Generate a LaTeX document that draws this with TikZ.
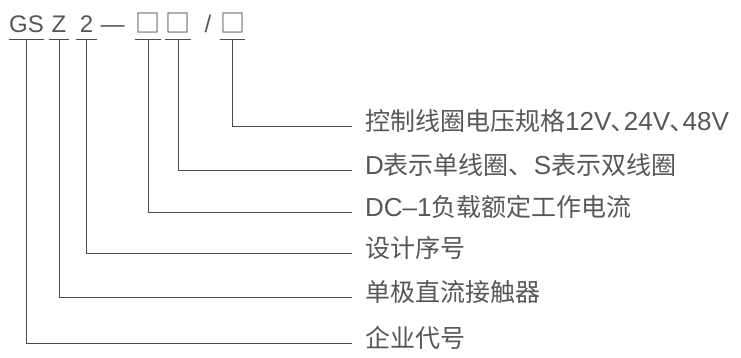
\documentclass[tikz,border=0pt]{standalone}
\usepackage{fontspec}
\setmainfont{Noto Sans CJK SC}
\newfontfamily\ltnfont{Liberation Sans}
\newcommand\ltn[1]{{\ltnfont\fontsize{26}{30}\selectfont #1}}
\usetikzlibrary{positioning}

\begin{document}
\begin{tikzpicture}[x=1pt, y=-1pt,
    every node/.style={text=black!66, font=\fontsize{25}{30}\selectfont},
    code/.style={anchor=base, inner xsep=0pt, inner ysep=6pt, text depth=0pt, minimum width=20pt, font=\ltnfont\fontsize{24}{28}\selectfont},
    box/.style={code, font=\fontsize{25}{28}\selectfont},
    desc/.style={anchor=west, inner xsep=13pt, inner ysep=0pt, text height=20pt, text depth=12pt},
    lead/.style={draw=black!70, line width=1pt}]

      \useasboundingbox (0,0) rectangle (741,358);

      % model code
      \node[code] (gs) at (26.5, 33) {GS};
      \node[code] (z) at (59, 33) {Z};
      \node[code] (two) at (86.5, 33) {2};
      \node[code] (dash) at (112.5, 33) {—};
      \node[box] (b1) at (148, 33) {□};
      \node[box] (b2) at (178, 33) {□};
      \node[code] (slash) at (208, 33) {/};
      \node[box] (b3) at (232.5, 33) {□};

      % meanings
      \node[desc] (d1) at (352, 127) {控制线圈电压规格\ltn{12V}､\ltn{24V}､\ltn{48V}};
      \node[desc] (d2) at (352, 171) {\ltn{D}表示单线圈、\ltn{S}表示双线圈};
      \node[desc] (d3) at (352, 212) {\ltn{DC–1}负载额定工作电流};
      \node[desc] (d4) at (352, 253) {设计序号};
      \node[desc] (d5) at (352, 297) {单极直流接触器};
      \node[desc] (d6) at (352, 343) {企业代号};

      \foreach \c/\d in {b3/d1, b2/d2, b1/d3, two/d4, z/d5, gs/d6} {
        \draw[lead] (\c.south west) -- (\c.south east);
        \draw[lead] (\c.south) |- (\d.west);
      }

\end{tikzpicture}
\end{document}
